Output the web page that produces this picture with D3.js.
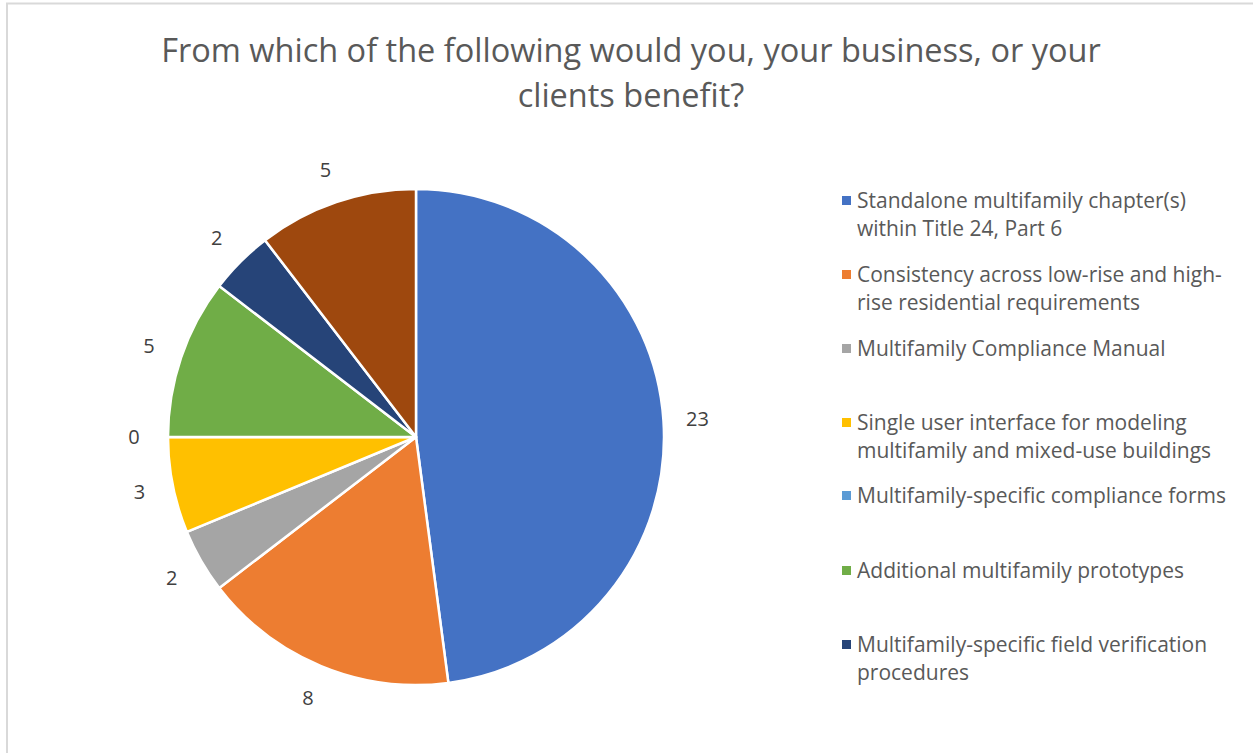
<!DOCTYPE html>
<html>
<head>
<meta charset="utf-8">
<script src="https://cdnjs.cloudflare.com/ajax/libs/d3/7.8.5/d3.min.js"></script>
<style>
body { margin: 0; background: #fff; }
text { font-family: "Open Sans", sans-serif; }
</style>
</head>
<body>
<div class="visHolder"></div>
<script>
var categories = [
  'Standalone multifamily chapter(s) within Title 24, Part 6',
  'Consistency across low-rise and high-rise residential requirements',
  'Multifamily Compliance Manual',
  'Single user interface for modeling multifamily and mixed-use buildings',
  'Multifamily-specific compliance forms',
  'Additional multifamily prototypes',
  'Multifamily-specific field verification procedures',
  'Other'
];
var counts = [23, 8, 2, 3, 0, 5, 2, 5];
var colors = ['#4472C4', '#ED7D31', '#A5A5A5', '#FFC000', '#5B9BD5', '#70AD47', '#264478', '#9E480E'];
// legend lines as wrapped in the original (last entry was cut off there)
var legendLines = [
  ['Standalone multifamily chapter(s)', 'within Title 24, Part 6'],
  ['Consistency across low-rise and high-', 'rise residential requirements'],
  ['Multifamily Compliance Manual'],
  ['Single user interface for modeling', 'multifamily and mixed-use buildings'],
  ['Multifamily-specific compliance forms'],
  ['Additional multifamily prototypes'],
  ['Multifamily-specific field verification', 'procedures']
];
var titleLines = ['From which of the following would you, your business, or your', 'clients benefit?'];

var width = 1253,
height = 753,
cx = 416,
cy = 437,
radius = 248;

var svg = d3.select('.visHolder').append('svg')
  .attr('width', width)
  .attr('height', height);

// chart frame
svg.append('path')
  .attr('d', 'M7,' + (height + 2) + 'V3.5H' + (width + 2))
  .attr('fill', 'none')
  .attr('stroke', '#d9d9d9')
  .attr('stroke-width', 2);

svg.append('text')
  .attr('x', 631)
  .attr('y', 62)
  .attr('text-anchor', 'middle')
  .style('font-size', '32.5px')
  .attr('fill', '#595959')
  .selectAll('tspan')
  .data(titleLines)
  .enter()
  .append('tspan')
  .attr('x', 631)
  .attr('dy', function(d, i) { return i === 0 ? 0 : 45; })
  .text(function(d) { return d; });

var pie = d3.pie().sort(null).value(function(d) { return d; });
var arcs = pie(counts);

var arc = d3.arc().innerRadius(0).outerRadius(radius);
var labelArc = d3.arc().innerRadius(282).outerRadius(282);

var g = svg.append('g')
  .attr('transform', 'translate(' + cx + ',' + cy + ')');

g.selectAll('path')
  .data(arcs)
  .enter()
  .append('path')
  .attr('d', arc)
  .attr('fill', function(d, i) { return colors[i]; })
  .attr('stroke', '#fff')
  .attr('stroke-width', 2.5)
  .attr('stroke-linejoin', 'round');

g.selectAll('.label')
  .data(arcs)
  .enter()
  .append('text')
  .attr('class', 'label')
  .attr('transform', function(d) { return 'translate(' + labelArc.centroid(d) + ')'; })
  .attr('text-anchor', 'middle')
  .attr('dy', '0.35em')
  .attr('fill', '#404040')
  .style('font-size', '20px')
  .text(function(d) { return d.data; });

var legend = svg.append('g')
  .attr('transform', 'translate(842, 0)');

var legendY = [201, 275, 349, 423, 496, 571, 645];

var item = legend.selectAll('.item')
  .data(legendLines)
  .enter()
  .append('g')
  .attr('class', 'item')
  .attr('transform', function(d, i) { return 'translate(0,' + legendY[i] + ')'; });

item.append('rect')
  .attr('x', 0)
  .attr('y', -5)
  .attr('width', 9)
  .attr('height', 9)
  .attr('fill', function(d, i) { return colors[i]; });

item.append('text')
  .attr('fill', '#595959')
  .style('font-size', '21px')
  .selectAll('tspan')
  .data(function(d) { return d; })
  .enter()
  .append('tspan')
  .attr('x', 15)
  .attr('y', function(d, i) { return i * 28; })
  .attr('dy', '0.35em')
  .text(function(d) { return d; });
</script>
</body>
</html>
